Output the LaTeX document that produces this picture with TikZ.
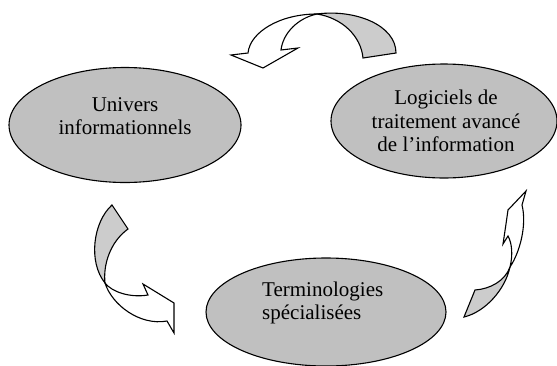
\documentclass[tikz,border=0pt]{standalone}
\usepackage{fontspec}
\setmainfont{Liberation Serif}
\usepackage{tikz}
\usetikzlibrary{shapes.geometric}

\definecolor{bulleGris}{RGB}{192,192,192}
\definecolor{flecheGris}{RGB}{204,204,204}

\begin{document}
\begin{tikzpicture}[x=1pt,y=-1pt,
		bulle/.style={ellipse,draw,line width=1.1pt,fill=bulleGris,inner sep=0pt},
		texte/.style={font=\fontsize{21}{23.5}\selectfont,align=center,inner sep=0pt},
		fleche/.style={draw,line width=1.1pt,line join=miter}]
	\useasboundingbox (0,0) rectangle (557,365);
	
	% les trois bulles
	\node[bulle,minimum width=232pt,minimum height=115pt] (univers) at (125,125) {};
	\node[bulle,minimum width=226pt,minimum height=114pt] (logiciels) at (444,121) {};
	\node[bulle,minimum width=240pt,minimum height=108pt] (termino) at (326,312) {};
	
	\node[texte] (univers-t) at (125,116) {Univers\\informationnels};
	\node[texte] (logiciels-t) at (446,121) {Logiciels de\\traitement avancé\\de l’information};
	\node[texte,align=left,anchor=west] (termino-t) at (262,303) {Terminologies\\spécialisées};
	
	% fleche du haut
	\draw[fleche,fill=flecheGris] (396,53) .. controls (396,25) and (355,9) .. (317,14)
		.. controls (342,18) and (361,36) .. (363,58) -- cycle;
	\draw[fleche,fill=white] (317,14) .. controls (298,18) and (283,33) .. (281,50)
		-- (298,48) -- (263,68) -- (231,55) -- (248,53)
		.. controls (250,32) and (280,14) .. (317,14) -- cycle;
	
	% fleche de gauche
	\draw[fleche,fill=flecheGris] (112,205) .. controls (93,222) and (88,262) .. (105,283)
		.. controls (103,265) and (110,242) .. (128,229) -- cycle;
	\draw[fleche,fill=white] (105,283) .. controls (112,292) and (130,298) .. (148,295)
		-- (143,284) -- (174,303) -- (174,333) -- (167,321)
		.. controls (140,326) and (112,305) .. (105,283) -- cycle;
	
	% fleche de droite
	\draw[fleche,fill=flecheGris] (475,290) -- (464,317) .. controls (485,312) and (505,290) .. (510,267)
		.. controls (505,281) and (490,289) .. (475,290) -- cycle;
	\draw[fleche,fill=white] (510,267) .. controls (513,255) and (512,243) .. (508,236)
		-- (503,244) -- (506,224) -- (508,210) -- (526,191) -- (522,205)
		.. controls (527,225) and (520,252) .. (510,267) -- cycle;
\end{tikzpicture}
\end{document}
